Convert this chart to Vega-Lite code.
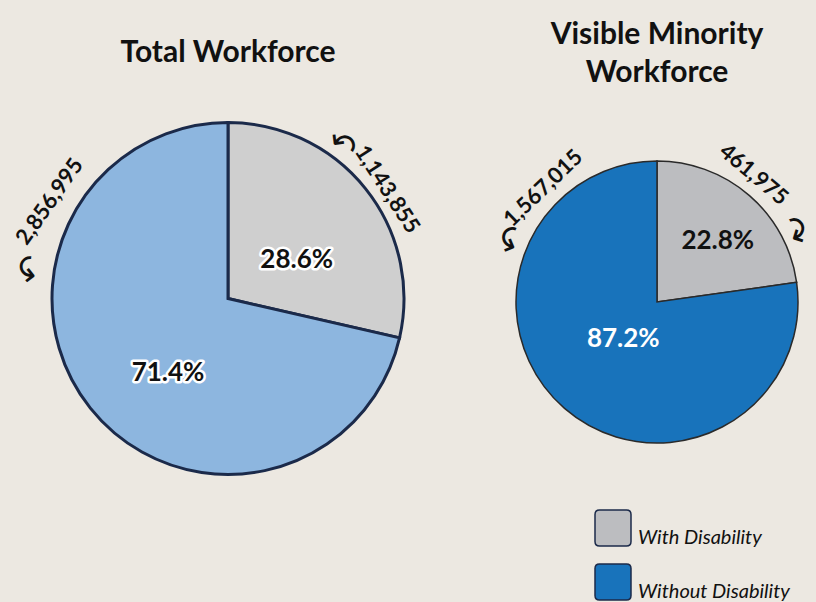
{
  "$schema": "https://vega.github.io/schema/vega-lite/v6.json",
  "background": "#ece8e1",
  "padding": {"left": 0, "top": 20, "right": 4, "bottom": 99},
  "config": {
    "view": {"stroke": null},
    "font": "Lato",
    "title": {"font": "Lato", "fontSize": 30, "fontWeight": "bold", "color": "#111111"}
  },
  "data": {
    "values": [
      {"chart": "Total Workforce", "status": "With Disability", "count": 1143855, "pct": "28.6%", "label": "1,143,855"},
      {"chart": "Total Workforce", "status": "Without Disability", "count": 2856995, "pct": "71.4%", "label": "2,856,995"},
      {"chart": "Visible Minority Workforce", "status": "With Disability", "count": 461975, "pct": "22.8%", "label": "461,975"},
      {"chart": "Visible Minority Workforce", "status": "Without Disability", "count": 1567015, "pct": "87.2%", "label": "1,567,015"}
    ]
  },
  "spacing": 46,
  "bounds": "flush",
  "resolve": {"scale": {"color": "independent", "fill": "independent"}, "legend": {"color": "independent"}},
  "hconcat": [
    {
      "width": 456,
      "height": 397,
      "title": {"text": "Total Workforce", "offset": 32},
      "transform": [{"filter": "datum.chart === 'Total Workforce'"}],
      "encoding": {
        "theta": {"field": "count", "type": "quantitative", "stack": true},
        "order": {"field": "status", "type": "ordinal", "sort": "ascending"},
        "detail": {"field": "status", "type": "nominal"}
      },
      "layer": [
        {
          "mark": {"type": "arc", "outerRadius": 176, "stroke": "#1b2a4a", "strokeWidth": 3},
          "encoding": {
            "fill": {"field": "status", "type": "nominal", "scale": {"domain": ["With Disability", "Without Disability"], "range": ["#cfcfcf", "#8db6df"]}, "legend": null}
          }
        },
        {
          "mark": {"type": "text", "radius": 79, "thetaOffset": 0.157, "fontSize": 26, "fontWeight": "bold", "fill": "#111111", "stroke": "white", "strokeWidth": 5, "strokeJoin": "round"},
          "encoding": {"text": {"condition": {"test": "datum.status === 'With Disability'", "field": "pct"}, "value": ""}}
        },
        {
          "mark": {"type": "text", "radius": 79, "thetaOffset": 0.157, "fontSize": 26, "fontWeight": "bold", "fill": "#111111"},
          "encoding": {"text": {"condition": {"test": "datum.status === 'With Disability'", "field": "pct"}, "value": ""}}
        },
        {
          "mark": {"type": "text", "radius": 96, "thetaOffset": -0.223, "fontSize": 26, "fontWeight": "bold", "fill": "#111111", "stroke": "white", "strokeWidth": 5, "strokeJoin": "round"},
          "encoding": {"text": {"condition": {"test": "datum.status === 'Without Disability'", "field": "pct"}, "value": ""}}
        },
        {
          "mark": {"type": "text", "radius": 96, "thetaOffset": -0.223, "fontSize": 26, "fontWeight": "bold", "fill": "#111111"},
          "encoding": {"text": {"condition": {"test": "datum.status === 'Without Disability'", "field": "pct"}, "value": ""}}
        },
        {
          "mark": {"type": "text", "radius": 193, "thetaOffset": 0.072, "angle": 57, "fontSize": 22, "fontWeight": "bold", "fill": "#111111"},
          "encoding": {"text": {"condition": {"test": "datum.status === 'With Disability'", "field": "label"}, "value": ""}}
        },
        {
          "mark": {"type": "text", "radius": 203, "thetaOffset": 1.171, "angle": -55, "fontSize": 22, "fontWeight": "bold", "fill": "#111111"},
          "encoding": {"text": {"condition": {"test": "datum.status === 'Without Disability'", "field": "label"}, "value": ""}}
        },
        {
          "mark": {"type": "text", "radius": 190, "thetaOffset": -0.26, "angle": 38, "font": "DejaVu Sans", "fontSize": 34, "fill": "#111111"},
          "encoding": {"text": {"condition": {"test": "datum.status === 'With Disability'", "value": "↶"}, "value": ""}}
        },
        {
          "mark": {"type": "text", "radius": 198, "thetaOffset": 0.82, "angle": -83, "font": "DejaVu Sans", "fontSize": 34, "fill": "#111111"},
          "encoding": {"text": {"condition": {"test": "datum.status === 'Without Disability'", "value": "↶"}, "value": ""}}
        }
      ]
    },
    {
      "width": 310,
      "height": 404,
      "title": {"text": ["Visible Minority", "Workforce"], "offset": 12, "lineHeight": 38},
      "transform": [{"filter": "datum.chart === 'Visible Minority Workforce'"}],
      "encoding": {
        "theta": {"field": "count", "type": "quantitative", "stack": true},
        "order": {"field": "status", "type": "ordinal", "sort": "ascending"},
        "detail": {"field": "status", "type": "nominal"}
      },
      "layer": [
        {
          "mark": {"type": "arc", "outerRadius": 141, "stroke": "#2a2a2a", "strokeWidth": 1.5},
          "encoding": {
            "color": {
              "field": "status", "type": "nominal",
              "scale": {"domain": ["With Disability", "Without Disability"], "range": ["#bcbdc0", "#1873bb"]},
              "legend": {
                "title": null, "orient": "none", "legendX": 92, "legendY": 409, "direction": "vertical",
                "symbolType": "M -0.75 -1 L 0.75 -1 Q 1 -1 1 -0.75 L 1 0.75 Q 1 1 0.75 1 L -0.75 1 Q -1 1 -1 0.75 L -1 -0.75 Q -1 -1 -0.75 -1 Z",
                "symbolSize": 1296, "symbolStrokeColor": "#1b2a4a", "symbolStrokeWidth": 1.5, "symbolOpacity": 1,
                "labelFont": "Lato", "labelFontSize": 20, "labelFontStyle": "italic", "labelColor": "#111111",
                "labelOffset": 6, "rowPadding": 12, "labelBaseline": "top", "labelLimit": 300
              }
            }
          }
        },
        {
          "mark": {"type": "text", "radius": 86, "thetaOffset": 0.07, "fontSize": 26, "fontWeight": "bold", "fill": "#111111"},
          "encoding": {"text": {"condition": {"test": "datum.status === 'With Disability'", "field": "pct"}, "value": ""}}
        },
        {
          "mark": {"type": "text", "radius": 50, "thetaOffset": 0.026, "fontSize": 26, "fontWeight": "bold", "fill": "white"},
          "encoding": {"text": {"condition": {"test": "datum.status === 'Without Disability'", "field": "pct"}, "value": ""}}
        },
        {
          "mark": {"type": "text", "radius": 160, "thetaOffset": -0.066, "angle": 40, "fontSize": 22, "fontWeight": "bold", "fill": "#111111"},
          "encoding": {"text": {"condition": {"test": "datum.status === 'With Disability'", "field": "label"}, "value": ""}}
        },
        {
          "mark": {"type": "text", "radius": 161, "thetaOffset": 1.641, "angle": -44, "fontSize": 22, "fontWeight": "bold", "fill": "#111111"},
          "encoding": {"text": {"condition": {"test": "datum.status === 'Without Disability'", "field": "label"}, "value": ""}}
        },
        {
          "mark": {"type": "text", "radius": 153, "thetaOffset": 0.38, "angle": 62, "font": "DejaVu Sans", "fontSize": 34, "fill": "#111111"},
          "encoding": {"text": {"condition": {"test": "datum.status === 'With Disability'", "value": "↷"}, "value": ""}}
        },
        {
          "mark": {"type": "text", "radius": 156, "thetaOffset": 1.26, "angle": -67, "font": "DejaVu Sans", "fontSize": 34, "fill": "#111111"},
          "encoding": {"text": {"condition": {"test": "datum.status === 'Without Disability'", "value": "↶"}, "value": ""}}
        }
      ]
    }
  ]
}
